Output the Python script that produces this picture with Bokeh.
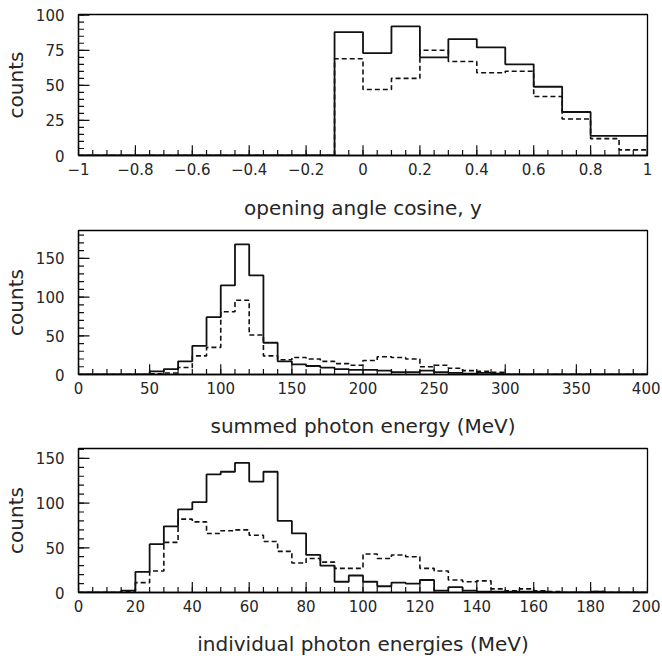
import numpy as np
from bokeh.plotting import figure
from bokeh.layouts import column
from bokeh.models import FixedTicker, CustomJSTickFormatter, Range1d
from bokeh.embed import file_html
from bokeh.resources import INLINE

# ---------------- data ----------------
# panel 1: opening angle cosine, bins of 0.1 from -1 to 1
cos_lo, cos_w = -1.0, 0.1
cos_solid = [0, 0, 0, 0, 0, 0, 0, 0, 0,
             88, 73, 92, 70, 83, 77, 65, 49, 31, 14, 14]
cos_dashed = [0, 0, 0, 0, 0, 0, 0, 0, 0,
              69, 47, 55, 75, 67, 59, 60, 42, 26, 12, 4]
cos_xticks = [-1, -0.8, -0.6, -0.4, -0.2, 0, 0.2, 0.4, 0.6, 0.8, 1]
cos_yticks = [0, 25, 50, 75, 100]

# panel 2: summed photon energy, bins of 10 MeV from 0 to 400
sum_lo, sum_w = 0.0, 10.0
sum_solid = [0, 0, 0, 0, 0, 4, 7, 17, 37, 74,
             115, 168, 128, 41, 17, 13, 11, 9, 7, 6,
             6, 5, 3, 3, 5, 3, 2, 1, 2, 1,
             0, 0, 0, 0, 0, 0, 0, 0, 0, 0]
sum_dashed = [0, 0, 0, 0, 0, 1, 2, 9, 24, 35,
              81, 96, 51, 24, 19, 22, 20, 17, 14, 12,
              18, 23, 22, 20, 10, 12, 8, 5, 4, 3,
              0, 0, 0, 0, 0, 0, 0, 0, 0, 0]
sum_xticks = [0, 50, 100, 150, 200, 250, 300, 350, 400]
sum_yticks = [0, 50, 100, 150]

# panel 3: individual photon energies, bins of 5 MeV from 0 to 200
ind_lo, ind_w = 0.0, 5.0
ind_solid = [0, 0, 0, 2, 23, 54, 74, 93, 101, 132,
             135, 145, 124, 135, 80, 66, 42, 30, 12, 19,
             12, 7, 11, 10, 14, 2, 6, 2, 1, 1,
             1, 1, 1, 0, 0, 0, 1, 0, 0, 0]
ind_dashed = [0, 0, 0, 1, 11, 24, 56, 82, 79, 66,
              69, 70, 64, 57, 46, 33, 38, 34, 27, 27,
              43, 38, 42, 40, 27, 24, 14, 12, 13, 4,
              2, 4, 2, 1, 0, 0, 1, 0, 0, 0]
ind_xticks = [0, 20, 40, 60, 80, 100, 120, 140, 160, 180, 200]
ind_yticks = [0, 50, 100, 150]

FONT = "DejaVu Sans"
TXT = "#262626"
FRAME_W = 570


def steps(lo, width, counts):
    counts = np.asarray(counts, dtype=float)
    edges = lo + width * np.arange(len(counts) + 1)
    xs = np.repeat(edges, 2)
    ys = np.concatenate([[0.0], np.repeat(counts, 2), [0.0]])
    return xs, ys


def panel(height, btop, bbot, xr, yr, xmaj, xminor, ymaj, yminor, xlabel,
          xcode, lo, w, solid, dashed, title_standoff):
    p = figure(width=660, height=height, x_range=Range1d(*xr), y_range=Range1d(*yr),
               output_backend="svg", toolbar_location=None,
               min_border_left=77, min_border_right=13,
               min_border_top=btop, min_border_bottom=bbot)
    p.grid.visible = False
    p.outline_line_color = "black"
    p.outline_line_width = 1.3
    p.outline_line_alpha = 1.0

    # inward tick marks (length converted from pixels to data units)
    frame_h = height - btop - bbot
    px_x = (xr[1] - xr[0]) / FRAME_W
    px_y = (yr[1] - yr[0]) / frame_h
    y0, x0 = yr[0], xr[0]
    xminor_a = np.asarray(xminor, dtype=float)
    xmaj_a = np.asarray(xmaj, dtype=float)
    yminor_a = np.asarray(yminor, dtype=float)
    ymaj_a = np.asarray(ymaj, dtype=float)
    tc, tw = "#111111", 1.2
    p.segment(x0=xminor_a, y0=np.full_like(xminor_a, y0), x1=xminor_a,
              y1=np.full_like(xminor_a, y0 + 5.5 * px_y), line_color=tc, line_width=tw)
    p.segment(x0=xmaj_a, y0=np.full_like(xmaj_a, y0), x1=xmaj_a,
              y1=np.full_like(xmaj_a, y0 + 10.5 * px_y), line_color=tc, line_width=tw)
    p.segment(x0=np.full_like(yminor_a, x0), y0=yminor_a,
              x1=np.full_like(yminor_a, x0 + 5.5 * px_x), y1=yminor_a,
              line_color=tc, line_width=tw)
    p.segment(x0=np.full_like(ymaj_a, x0), y0=ymaj_a,
              x1=np.full_like(ymaj_a, x0 + 11 * px_x), y1=ymaj_a,
              line_color=tc, line_width=tw)

    xs, ys = steps(lo, w, dashed)
    p.line(xs, ys, line_color="#111111", line_width=1.6, line_dash="5 3")
    xs, ys = steps(lo, w, solid)
    p.line(xs, ys, line_color="#111111", line_width=1.8)

    p.xaxis.ticker = FixedTicker(ticks=xmaj)
    p.yaxis.ticker = FixedTicker(ticks=ymaj)
    p.xaxis.formatter = CustomJSTickFormatter(code=xcode)
    for ax in (p.xaxis[0], p.yaxis[0]):
        ax.major_tick_in = 0
        ax.major_tick_out = 0
        ax.minor_tick_in = 0
        ax.minor_tick_out = 0
        ax.axis_line_color = "black"
        ax.axis_line_width = 1.3
        ax.major_label_text_font = FONT
        ax.major_label_text_font_size = "15px"
        ax.major_label_text_color = TXT
        ax.axis_label_text_font = FONT
        ax.axis_label_text_font_size = "20px"
        ax.axis_label_text_font_style = "normal"
        ax.axis_label_text_color = TXT
    p.xaxis.axis_label = xlabel
    p.xaxis.major_label_standoff = 7
    p.xaxis.axis_label_standoff = title_standoff
    p.yaxis.axis_label = "counts"
    p.yaxis.major_label_standoff = 14
    p.yaxis.axis_label_standoff = 5
    return p


code1 = "const v = Math.round(tick*10)/10; return v < 0 ? '\u2212' + (-v) : '' + v;"
code2 = "const v = Math.round(tick); return '' + v;"

p1 = panel(222, 14, 65, (-1, 1), (0, 100.5), cos_xticks,
           [round(-1 + 0.05 * i, 2) for i in range(41)], cos_yticks,
           list(range(0, 101, 5)), "opening angle cosine, y", code1,
           cos_lo, cos_w, cos_solid, cos_dashed, 18)
p2 = panel(218, 8, 64, (0, 400), (0, 186), sum_xticks,
           list(range(0, 401, 10)), sum_yticks, list(range(0, 181, 10)),
           "summed photon energy (MeV)", code2,
           sum_lo, sum_w, sum_solid, sum_dashed, 17)
p3 = panel(218, 8, 65, (0, 200), (0, 161), ind_xticks,
           list(range(0, 201, 5)), ind_yticks, list(range(0, 161, 10)),
           "individual photon energies (MeV)", code2,
           ind_lo, ind_w, ind_solid, ind_dashed, 17)

layout = column(p1, p2, p3, spacing=0)
open("out.html", "w").write(file_html(layout, INLINE))
